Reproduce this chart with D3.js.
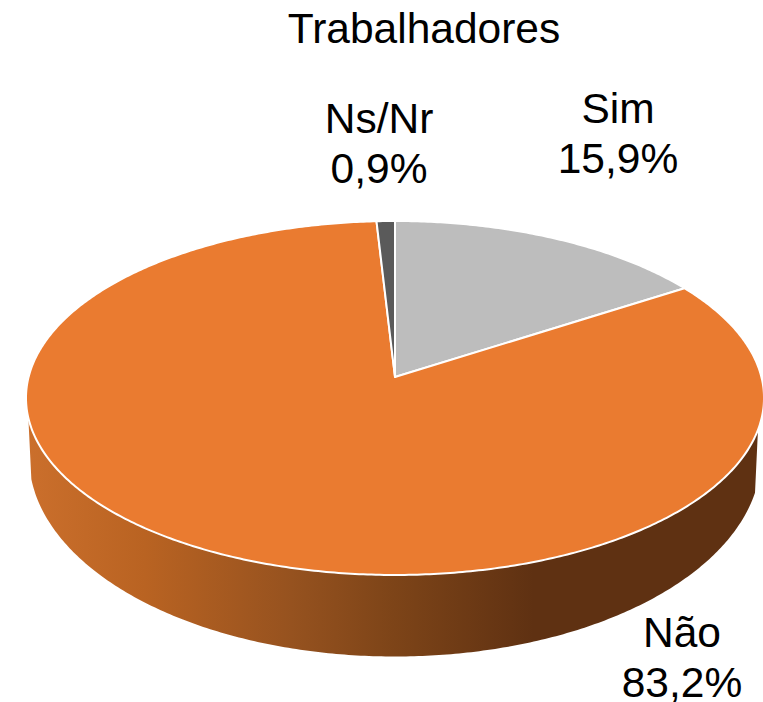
<!DOCTYPE html>
<html>
<head>
<meta charset="utf-8">
<script src="https://cdn.jsdelivr.net/npm/d3@7"></script>
<style>
  html, body { margin: 0; padding: 0; background: #fff; }
  svg { display: block; }
  text { font-family: "Liberation Sans", Arial, sans-serif; fill: #000; }
</style>
</head>
<body>
<div id="chart"></div>
<script>
var categories = ["Sim", "Não", "Ns/Nr"];
var values = [15.9, 83.2, 0.9];
var sliceColors = ["#bdbdbd", "#ea7b30", "#5a5a5a"];

var svgWidth = 763;
var svgHeight = 702;

// perspective of the tilted disc: the pie centre is not the ellipse centre
var centerX = 395;
var topPlane = { y: 377, a: 366.4, b: 174.5 };
var bottomPlane = { y: 433, a: 363.4, b: 197 };
var tilt = 0.1186;

// label anchors, same order as categories
var labelX = [618, 682, 379];
var labelY = [123, 647, 133];
var lineGap = 49.5;

var svg = d3.select("#chart")
  .append("svg")
  .attr("width", svgWidth)
  .attr("height", svgHeight);

// angle is clockwise from 12 o'clock, like d3.pie
function project(angle, plane) {
  var u = Math.sin(angle);
  var v = Math.cos(angle);
  var w = 1 + tilt * v;
  return [centerX + plane.a * u / w, plane.y - plane.b * v / w];
}

function arcPoints(start, end, plane) {
  var n = Math.max(2, Math.ceil(Math.abs(end - start) / 0.01));
  return d3.range(n + 1).map(function(i) {
    return project(start + (end - start) * i / n, plane);
  });
}

var line = d3.line();

// shading of the side wall
var gradient = svg.append("defs").append("linearGradient")
  .attr("id", "wall")
  .attr("gradientUnits", "userSpaceOnUse")
  .attr("x1", 27).attr("x2", 761)
  .attr("y1", 0).attr("y2", 0);

var wallStops = [
  [0, "#cb6f2c"],
  [0.16, "#b96322"],
  [0.36, "#96521f"],
  [0.5, "#7d4418"],
  [0.69, "#5f3112"],
  [1, "#5f3112"]
];
gradient.selectAll("stop")
  .data(wallStops)
  .enter()
  .append("stop")
  .attr("offset", d => d[0])
  .attr("stop-color", d => d[1]);

var wallStart = 107 * Math.PI / 180;
var wallEnd = 256.8 * Math.PI / 180;

svg.append("path")
  .attr("d", line(
    arcPoints(wallStart, wallEnd, topPlane)
      .concat(arcPoints(wallEnd, wallStart, bottomPlane))
  ) + "Z")
  .attr("fill", "url(#wall)");

// top face
var pie = d3.pie().sort(null);
var arcs = pie(values);

svg.selectAll("path.slice")
  .data(arcs)
  .enter()
  .append("path")
  .attr("class", "slice")
  .attr("d", function(d) {
    var pts = [[centerX, topPlane.y]].concat(arcPoints(d.startAngle, d.endAngle, topPlane));
    return line(pts) + "Z";
  })
  .attr("fill", (d, i) => sliceColors[i])
  .attr("stroke", "#fff")
  .attr("stroke-width", 2)
  .attr("stroke-linejoin", "round");

// labels
var fmt = d3.format(".1f");
var labels = svg.selectAll("text.label")
  .data(categories)
  .enter()
  .append("text")
  .attr("class", "label")
  .attr("text-anchor", "middle")
  .attr("font-size", 42.5);

labels.append("tspan")
  .attr("x", (d, i) => labelX[i])
  .attr("y", (d, i) => labelY[i])
  .text(d => d);

labels.append("tspan")
  .attr("x", (d, i) => labelX[i])
  .attr("y", (d, i) => labelY[i] + lineGap)
  .text((d, i) => fmt(values[i]).replace(".", ",") + "%");

svg.append("text")
  .attr("x", 424)
  .attr("y", 43)
  .attr("text-anchor", "middle")
  .attr("font-size", 42.5)
  .text("Trabalhadores");
</script>
</body>
</html>
